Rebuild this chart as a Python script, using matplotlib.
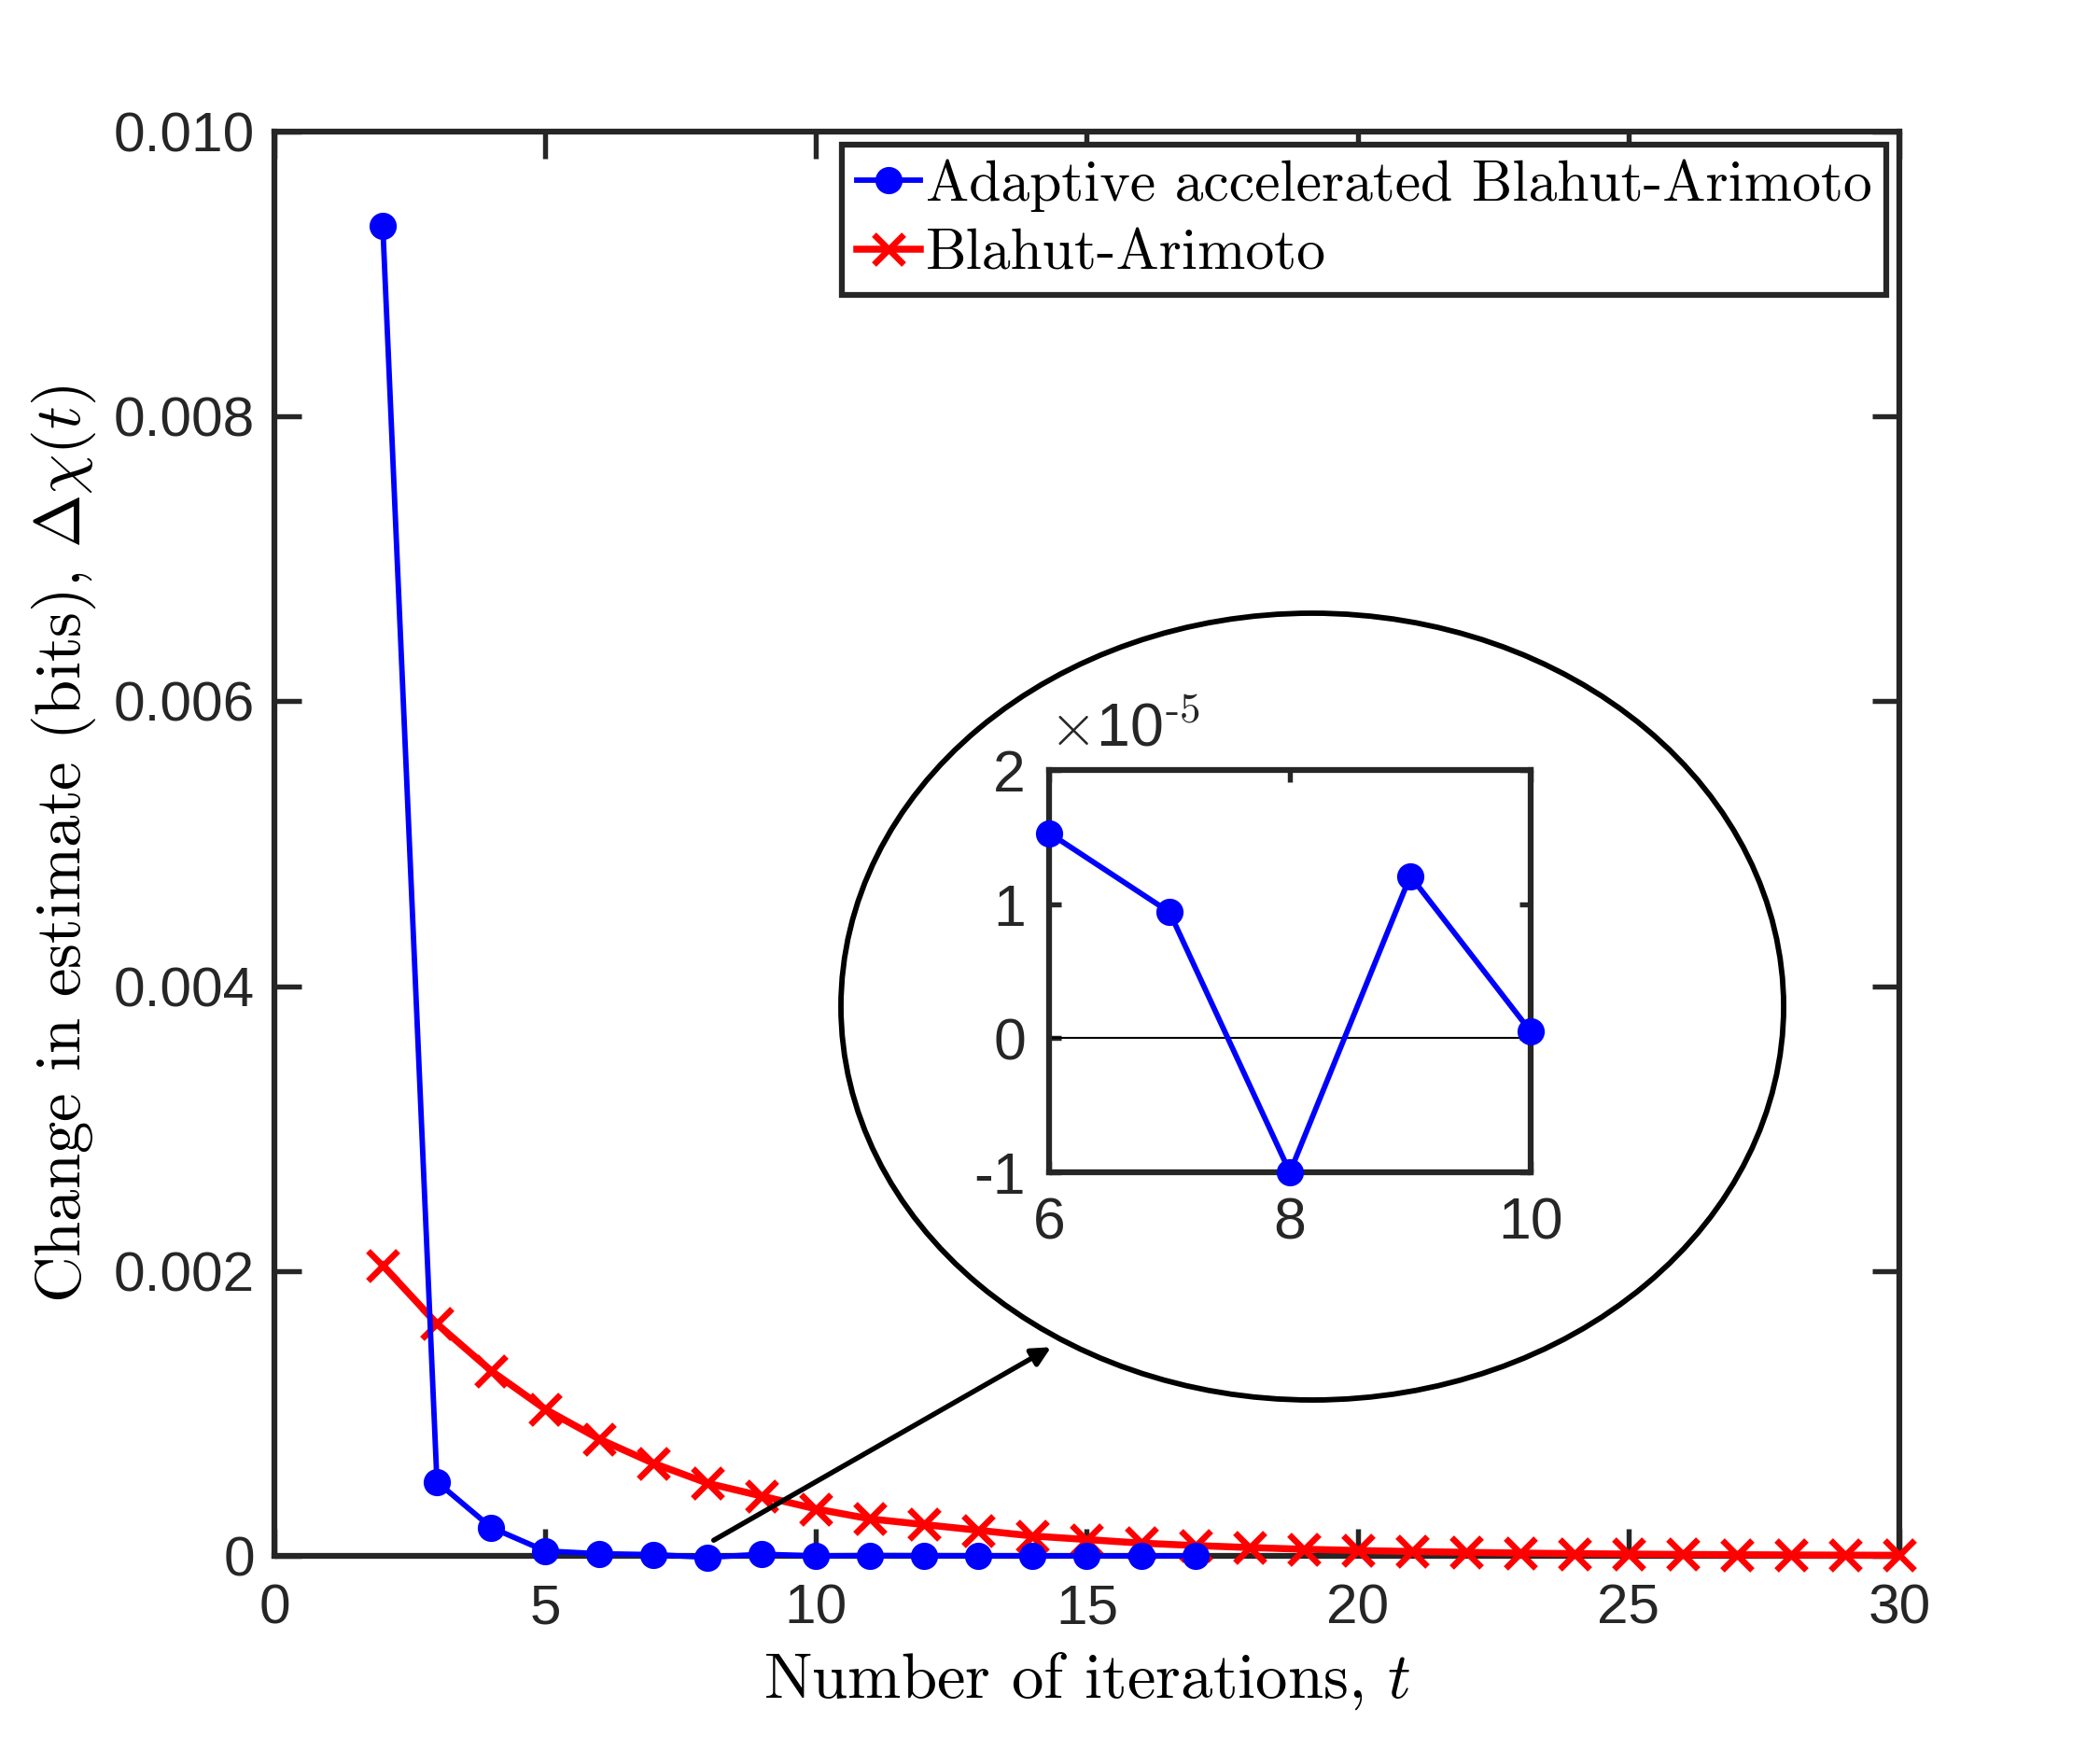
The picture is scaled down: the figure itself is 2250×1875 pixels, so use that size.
import matplotlib
matplotlib.use('Agg')
import matplotlib.pyplot as plt
from matplotlib.patches import Ellipse
import numpy as np

plt.rcParams['mathtext.fontset'] = 'cm'
plt.rcParams['font.family'] = ['Liberation Sans', 'DejaVu Sans']

# data
t_aba = list(range(2, 18))
d_aba = [9.34e-3, 5.2e-4, 2.0e-4, 3.5e-5, 1.53e-5, 0.94e-5, -1.0e-5, 1.21e-5,
         0.05e-5, 3e-6, 2e-6, 1.5e-6, 1e-6, 8e-7, 6e-7, 5e-7]
t_ba = list(range(2, 31))
d_ba = [2.04e-3, 1.63e-3, 1.30e-3, 1.03e-3, 8.2e-4, 6.5e-4, 5.1e-4, 4.2e-4,
        3.3e-4, 2.6e-4, 2.2e-4, 1.8e-4, 1.4e-4, 1.15e-4, 9e-5, 7.3e-5, 5.9e-5,
        4.7e-5, 3.8e-5, 3.1e-5, 2.5e-5, 2.0e-5, 1.6e-5, 1.3e-5, 1.05e-5,
        8.5e-6, 6.9e-6, 5.6e-6, 4.5e-6]
main_xticks = [0, 5, 10, 15, 20, 25, 30]
main_yticks = [0, 0.002, 0.004, 0.006, 0.008, 0.010]
main_ylabels = ['0', '0.002', '0.004', '0.006', '0.008', '0.010']
inset_t = [6, 7, 8, 9, 10]
inset_yticks = [-1e-5, 0, 1e-5, 2e-5]
inset_ylabels = ['-1', '0', '1', '2']

gray = '#262626'
lbl_font = {'family': 'cmr10', 'size': 16.5}

fig = plt.figure(figsize=(7.5, 6.25), dpi=300)
ax = fig.add_axes([0.1307, 0.1109, 0.7737, 0.8139])

ax.plot(t_aba, d_aba, '-o', color='blue', lw=1.4, ms=6, clip_on=False, zorder=4,
        label='Adaptive accelerated Blahut-Arimoto')
ax.plot(t_ba, d_ba, '-x', color='red', lw=1.8, ms=7.5, mew=1.6, clip_on=False, zorder=3,
        label='Blahut-Arimoto')

ax.set_xlim(0, 30)
ax.set_ylim(0, 0.010)
ax.set_xticks(main_xticks)
ax.set_yticks(main_yticks)
ax.set_yticklabels(main_ylabels)
ax.tick_params(direction='in', length=7, width=1.3, colors=gray, labelsize=14.5,
               top=True, right=True, pad=5)
ax.tick_params(axis='x', pad=7)
for s in ax.spines.values():
    s.set_linewidth(1.5)
    s.set_color(gray)

ax.set_xlabel('Number of iterations, $t$', fontdict=lbl_font, labelpad=4)
ax.set_ylabel(r'Change in estimate (bits), $\Delta\chi(t)$', fontdict=lbl_font, labelpad=4)

leg = ax.legend(loc='upper right', bbox_to_anchor=(2021 / 2250, 1 - 155 / 1875),
                bbox_transform=fig.transFigure, borderaxespad=0,
                prop={'family': 'cmr10', 'size': 14.8}, fancybox=False,
                handlelength=1.1, handletextpad=0.1, labelspacing=0.3,
                borderpad=0.25, framealpha=1)
leg.get_frame().set_edgecolor(gray)
leg.get_frame().set_linewidth(1.5)

# zoom ellipse and arrow
ell = Ellipse((0.6249, 0.4248), 0.4489, 0.4496, transform=fig.transFigure,
              fill=False, ec='black', lw=1.4, zorder=5)
fig.add_artist(ell)
ax.annotate('', xy=(14.34, 0.001466), xytext=(8.11, 0.00011),
            arrowprops=dict(arrowstyle='-|>', color='black', lw=1.3,
                            mutation_scale=10, shrinkA=0, shrinkB=0))

# inset
axi = fig.add_axes([0.4996, 0.3301, 0.2293, 0.2299])
axi.axhline(0, color='black', lw=0.5)
axi.plot(inset_t, d_aba[4:9], '-o', color='blue', lw=1.4, ms=6, clip_on=False, zorder=4)
axi.set_xlim(6, 10)
axi.set_ylim(-1e-5, 2e-5)
axi.set_xticks([6, 8, 10])
axi.set_yticks(inset_yticks)
axi.set_yticklabels(inset_ylabels)
axi.tick_params(direction='in', length=3, width=1.3, colors=gray, labelsize=15,
                top=True, right=True, pad=6)
for s in axi.spines.values():
    s.set_linewidth(1.5)
    s.set_color(gray)
axi.text(0.0, 1.03, r'$\times$10$^{\text{-5}}$', transform=axi.transAxes,
         fontsize=15.5, color=gray, ha='left', va='bottom')

fig.savefig('out.png', dpi=300)
